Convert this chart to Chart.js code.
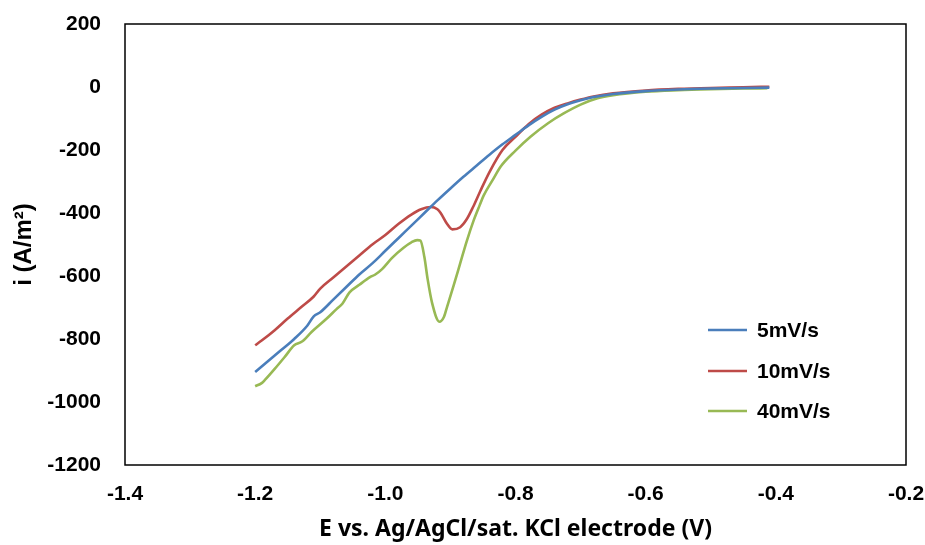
<!DOCTYPE html>
<html>
<head>
<meta charset="utf-8">
<script src="https://cdn.jsdelivr.net/npm/chart.js@4/dist/chart.umd.min.js"></script>
<style>
  html, body { margin: 0; padding: 0; background: #fff; }
  #wrap { width: 925px; height: 545px; }
</style>
</head>
<body>
<div id="wrap"><canvas id="cvChart" width="925" height="545"></canvas></div>
<script>
// series labels
const seriesNames = ["5mV/s", "10mV/s", "40mV/s"];

// 5 mV/s
const e5 = [-1.2, -1.18, -1.16, -1.14, -1.12, -1.11, -1.10, -1.08, -1.06, -1.04, -1.02, -1.00, -0.98, -0.96, -0.94,
  -0.92, -0.90, -0.88, -0.86, -0.84, -0.82, -0.80, -0.78, -0.76, -0.74, -0.72, -0.70, -0.68, -0.65, -0.60,
  -0.55, -0.50, -0.45, -0.41];
const i5 = [-905, -870, -835, -800, -758, -728, -715, -675, -635, -595, -560, -520, -480, -440, -400,
  -360, -322, -285, -250, -215, -182, -152, -122, -95, -72, -55, -42, -32, -22, -13,
  -8, -5, -3, -2];

// 10 mV/s
const e10 = [-1.2, -1.19, -1.17, -1.15, -1.13, -1.11, -1.10, -1.08, -1.06, -1.04, -1.02, -1.00, -0.98, -0.96,
  -0.945, -0.93, -0.92, -0.915, -0.905, -0.897, -0.885, -0.875, -0.865, -0.854, -0.84, -0.82, -0.80, -0.78,
  -0.76, -0.74, -0.72, -0.70, -0.68, -0.65, -0.60, -0.55, -0.50, -0.45, -0.41];
const i10 = [-820, -805, -772, -735, -700, -665, -640, -605, -570, -535, -500, -470, -435, -405,
  -388, -381, -388, -400, -435, -452, -445, -420, -380, -330, -270, -200, -158, -118,
  -88, -66, -52, -40, -30, -20, -11, -6, -3, -1, 1];

// 40 mV/s
const e40 = [-1.2, -1.19, -1.185, -1.17, -1.155, -1.14, -1.128, -1.113, -1.09, -1.075, -1.066, -1.055, -1.04,
  -1.023, -1.016, -1.005, -0.99, -0.972, -0.96, -0.951, -0.946, -0.94, -0.935, -0.928, -0.917, -0.91,
  -0.905, -0.895, -0.885, -0.875, -0.864, -0.855, -0.849, -0.835, -0.823, -0.80, -0.777, -0.75, -0.726,
  -0.70, -0.674, -0.65, -0.60, -0.55, -0.50, -0.45, -0.413];
const i40 = [-950, -940, -930, -895, -858, -820, -808, -777, -735, -705, -688, -652, -628,
  -603, -596, -578, -543, -510, -493, -486, -488, -540, -610, -687, -745, -730,
  -697, -630, -560, -490, -422, -375, -345, -295, -253, -202, -158, -115, -84,
  -56, -36, -26, -15, -10, -7, -5, -4];

const colors = ["#4A7EBB", "#BE4B48", "#98B954"];

const xTicks = [-1.4, -1.2, -1.0, -0.8, -0.6, -0.4, -0.2];
const yTicks = [200, 0, -200, -400, -600, -800, -1000, -1200];

function toPts(xs, ys) {
    return xs.map((x, k) => ({ x: x, y: ys[k] }));
}

const arial = "'Liberation Sans', Arial, sans-serif";
const gothic = "'Noto Sans', 'Open Sans', sans-serif";

// frame + legend drawn on top of the chart area
const framePlugin = {
    id: 'frameLegend',
    afterDraw(chart) {
        const ctx = chart.ctx;
        const a = chart.chartArea;
        ctx.save();
        ctx.strokeStyle = '#000';
        ctx.lineWidth = 1.5;
        ctx.strokeRect(a.left, a.top, a.right - a.left, a.bottom - a.top);

        // legend
        const rows = [330, 371, 411];
        ctx.font = "bold 21px " + arial;
        ctx.textBaseline = 'middle';
        chart.data.datasets.forEach((ds, k) => {
            ctx.strokeStyle = ds.borderColor;
            ctx.lineWidth = 2.5;
            ctx.beginPath();
            ctx.moveTo(a.left + 583, rows[k]);
            ctx.lineTo(a.left + 622, rows[k]);
            ctx.stroke();
            ctx.fillStyle = '#000';
            ctx.fillText(ds.label, a.left + 632, rows[k] + 1);
        });
        ctx.restore();
    }
};

const ctx = document.getElementById('cvChart').getContext('2d');
new Chart(ctx, {
    type: 'scatter',
    data: {
        datasets: [
            { label: seriesNames[0], data: toPts(e5, i5), borderColor: colors[0] },
            { label: seriesNames[1], data: toPts(e10, i10), borderColor: colors[1] },
            { label: seriesNames[2], data: toPts(e40, i40), borderColor: colors[2] }
        ].map(d => Object.assign(d, {
            showLine: true,
            borderWidth: 2.6,
            pointRadius: 0,
            fill: false,
            cubicInterpolationMode: 'monotone'
        }))
    },
    options: {
        responsive: false,
        animation: false,
        layout: { padding: { top: 24, right: 19, left: 0, bottom: 0 } },
        plugins: {
            legend: { display: false },
            tooltip: { enabled: false }
        },
        scales: {
            x: {
                type: 'linear',
                min: -1.4,
                max: -0.2,
                afterBuildTicks: s => { s.ticks = xTicks.map(v => ({ value: v })); },
                afterFit: s => { s.height = 80; s.paddingLeft = 0; s.paddingRight = 0; },
                grid: { display: false },
                border: { display: false },
                ticks: {
                    color: '#000',
                    padding: 9,
                    maxRotation: 0,
                    font: { family: arial, size: 21, weight: 'bold' },
                    callback: v => v.toFixed(1)
                },
                title: {
                    display: true,
                    text: 'E vs. Ag/AgCl/sat. KCl electrode (V)',
                    color: '#000',
                    padding: { top: 4, bottom: 2 },
                    font: { family: gothic, size: 23, weight: 'bold' }
                }
            },
            y: {
                min: -1200,
                max: 200,
                afterBuildTicks: s => { s.ticks = yTicks.map(v => ({ value: v })); },
                afterFit: s => { s.width = 125; s.paddingTop = 0; s.paddingBottom = 0; },
                grid: { display: false },
                border: { display: false },
                ticks: {
                    color: '#000',
                    padding: 16,
                    font: { family: arial, size: 21, weight: 'bold' },
                    callback: v => String(v)
                },
                title: {
                    display: true,
                    text: 'i (A/m²)',
                    color: '#000',
                    padding: { top: 10, bottom: 4 },
                    font: { family: arial, size: 24, weight: 'bold' }
                }
            }
        }
    },
    plugins: [framePlugin]
});
</script>
</body>
</html>
